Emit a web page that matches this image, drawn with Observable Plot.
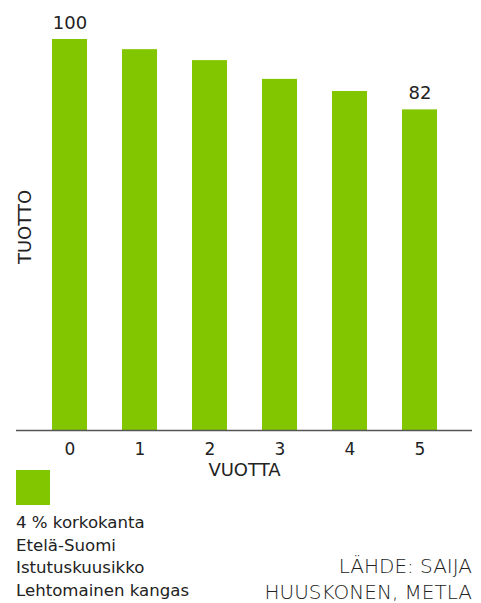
<!DOCTYPE html>
<html>
<head>
<meta charset="utf-8">
<script src="https://cdn.jsdelivr.net/npm/d3@7"></script>
<script src="https://cdn.jsdelivr.net/npm/@observablehq/plot@0.6"></script>
<style>
  html, body { margin: 0; padding: 0; background: white; }
  #wrap { position: relative; width: 481px; height: 603px; overflow: hidden; font-family: "DejaVu Sans", sans-serif; color: #222; }
  #chart { position: absolute; left: 0; top: 0; }
  #swatch { position: absolute; left: 16px; top: 470px; width: 34px; height: 35px; background: #82c600; }
  #notes { position: absolute; left: 16px; top: 512px; font-size: 16.6px; line-height: 22.7px; color: #222; }
  #source { position: absolute; right: 9px; top: 553px; font-size: 20px; line-height: 26px; font-weight: 200; color: #222; text-align: right; }
</style>
</head>
<body>
<div id="wrap">
  <div id="chart"></div>
  <div id="swatch"></div>
  <div id="notes"></div>
  <div id="source"></div>
</div>
<script>
const years = ["0", "1", "2", "3", "4", "5"];
const yields = [100, 97.4, 94.6, 89.8, 86.7, 82];
const barColor = "#82c600";
const yLabel = "TUOTTO";
const xLabel = "VUOTTA";
const notes = ["4 % korkokanta", "Etelä-Suomi", "Istutuskuusikko", "Lehtomainen kangas"];
const sourceLines = ["LÄHDE: SAIJA", "HUUSKONEN, METLA"];

const data = years.map((year, i) => ({year, value: yields[i]}));

const chart = Plot.plot({
  width: 481,
  height: 490,
  marginTop: 39,
  marginBottom: 60,
  marginLeft: 16,
  marginRight: 9,
  style: {fontFamily: "DejaVu Sans", fontSize: "17px", color: "#222", background: "white"},
  x: {domain: years, padding: 0.5, tickSize: 0, tickPadding: 12, label: null},
  y: {domain: [0, 100], axis: null},
  marks: [
    Plot.barY(data, {x: "year", y: "value", fill: barColor}),
    Plot.ruleY([0], {stroke: "#555", strokeWidth: 1.5}),
    Plot.text(data, {
      filter: (d, i) => i === 0 || i === data.length - 1,
      x: "year", y: "value", text: d => String(d.value),
      lineAnchor: "bottom", dy: -11, fontSize: 18
    }),
    Plot.text([xLabel], {frameAnchor: "bottom", dy: 45, fontSize: 18}),
    Plot.text([yLabel], {frameAnchor: "left", rotate: -90, textAnchor: "middle", dx: 9, dy: -8, fontSize: 18})
  ]
});
document.getElementById("chart").appendChild(chart);
document.getElementById("notes").innerHTML = notes.join("<br>");
document.getElementById("source").innerHTML = sourceLines.join("<br>");
</script>
</body>
</html>
